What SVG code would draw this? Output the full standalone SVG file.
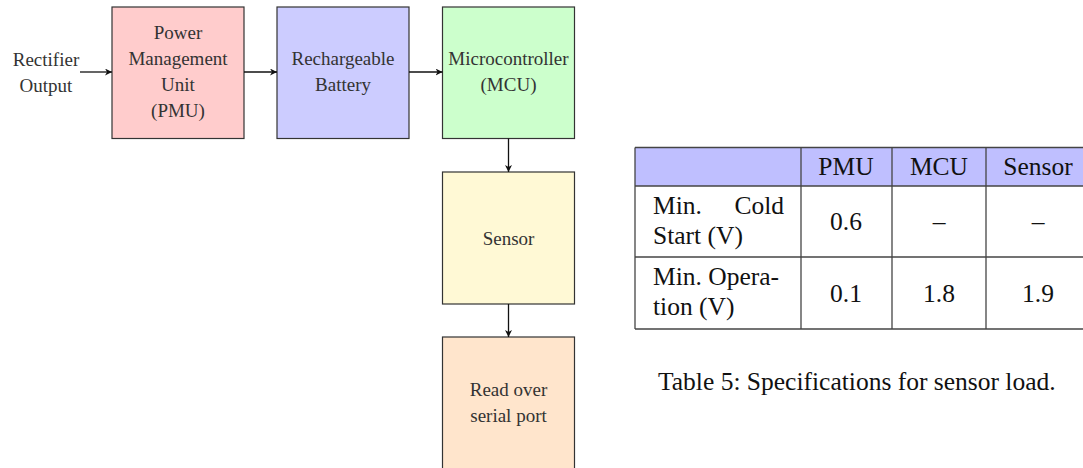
<svg xmlns="http://www.w3.org/2000/svg" width="1083" height="468" viewBox="0 0 1083 468">
<defs>
<style>
.box{stroke:#333;stroke-width:1.2}
.lbl{font-family:'Liberation Serif','DejaVu Serif',serif;font-size:19px;fill:#333;text-anchor:middle}
.conn{stroke:#111;stroke-width:1.3;fill:none;marker-end:url(#ah)}
.tt{font-family:'Liberation Serif','DejaVu Serif',serif;font-size:25.5px;fill:#111}
.tc{text-anchor:middle}
.grid{stroke:#444;stroke-width:1.3;fill:none}
</style>
<marker id="ah" viewBox="0 0 10 10" refX="10" refY="5" markerWidth="7" markerHeight="7" markerUnits="userSpaceOnUse" orient="auto">
<path d="M0,0 L10,5 L0,10 L3,5 Z" fill="#111"/>
</marker>
</defs>
<rect width="1083" height="468" fill="#fff"/>

<g id="input">
<text class="lbl" x="46" y="65.5">Rectifier</text>
<text class="lbl" x="46" y="91.5">Output</text>
</g>
<g id="pmu">
<rect class="box" x="112" y="7" width="132" height="131.5" fill="#ffcccc"/>
<text class="lbl" x="178" y="39">Power</text>
<text class="lbl" x="178" y="65">Management</text>
<text class="lbl" x="178" y="91">Unit</text>
<text class="lbl" x="178" y="117">(PMU)</text>
</g>
<g id="battery">
<rect class="box" x="277" y="7" width="132" height="131.5" fill="#ccccff"/>
<text class="lbl" x="343" y="65">Rechargeable</text>
<text class="lbl" x="343" y="91">Battery</text>
</g>
<g id="mcu">
<rect class="box" x="442.5" y="7" width="132" height="131.5" fill="#ccffcc"/>
<text class="lbl" x="508.5" y="65">Microcontroller</text>
<text class="lbl" x="508.5" y="91">(MCU)</text>
</g>
<g id="sensor">
<rect class="box" x="442.5" y="172" width="132" height="132" fill="#fff9d5"/>
<text class="lbl" x="508.5" y="244.5">Sensor</text>
</g>
<g id="serial">
<rect class="box" x="442.5" y="337" width="132" height="132" fill="#ffe5cc"/>
<text class="lbl" x="508.5" y="396">Read over</text>
<text class="lbl" x="508.5" y="422">serial port</text>
</g>

<g id="connectors">
<line class="conn" x1="80" y1="72" x2="112" y2="72"/>
<line class="conn" x1="244" y1="72" x2="277" y2="72"/>
<line class="conn" x1="409" y1="72" x2="442.5" y2="72"/>
<line class="conn" x1="508.5" y1="138.5" x2="508.5" y2="172"/>
<line class="conn" x1="508.5" y1="304" x2="508.5" y2="337"/>
</g>

<g id="table">
<rect x="635" y="147.5" width="460" height="38.5" fill="#bfbfff"/>
<line class="grid" x1="635" y1="147.5" x2="1095" y2="147.5"/>
<line class="grid" x1="635" y1="186" x2="1095" y2="186"/>
<line class="grid" x1="635" y1="257" x2="1095" y2="257"/>
<line class="grid" x1="635" y1="329" x2="1095" y2="329"/>
<line class="grid" x1="635" y1="147.5" x2="635" y2="329"/>
<line class="grid" x1="801" y1="147.5" x2="801" y2="329"/>
<line class="grid" x1="892" y1="147.5" x2="892" y2="329"/>
<line class="grid" x1="986" y1="147.5" x2="986" y2="329"/>
<text class="tt tc" x="846" y="175">PMU</text>
<text class="tt tc" x="939" y="175">MCU</text>
<text class="tt tc" x="1038" y="175">Sensor</text>
<text class="tt" x="653" y="214">Min.</text>
<text class="tt" x="784" y="214" text-anchor="end">Cold</text>
<text class="tt" x="653" y="243.5">Start (V)</text>
<text class="tt tc" x="846" y="230">0.6</text>
<text class="tt tc" x="939" y="230">–</text>
<text class="tt tc" x="1038" y="230">–</text>
<text class="tt" x="653" y="285">Min. Opera-</text>
<text class="tt" x="653" y="314.5">tion (V)</text>
<text class="tt tc" x="846" y="301.5">0.1</text>
<text class="tt tc" x="939" y="301.5">1.8</text>
<text class="tt tc" x="1038" y="301.5">1.9</text>
</g>
<g id="caption">
<text class="tt" x="658" y="390">Table 5: Specifications for sensor load.</text>
</g>
</svg>
